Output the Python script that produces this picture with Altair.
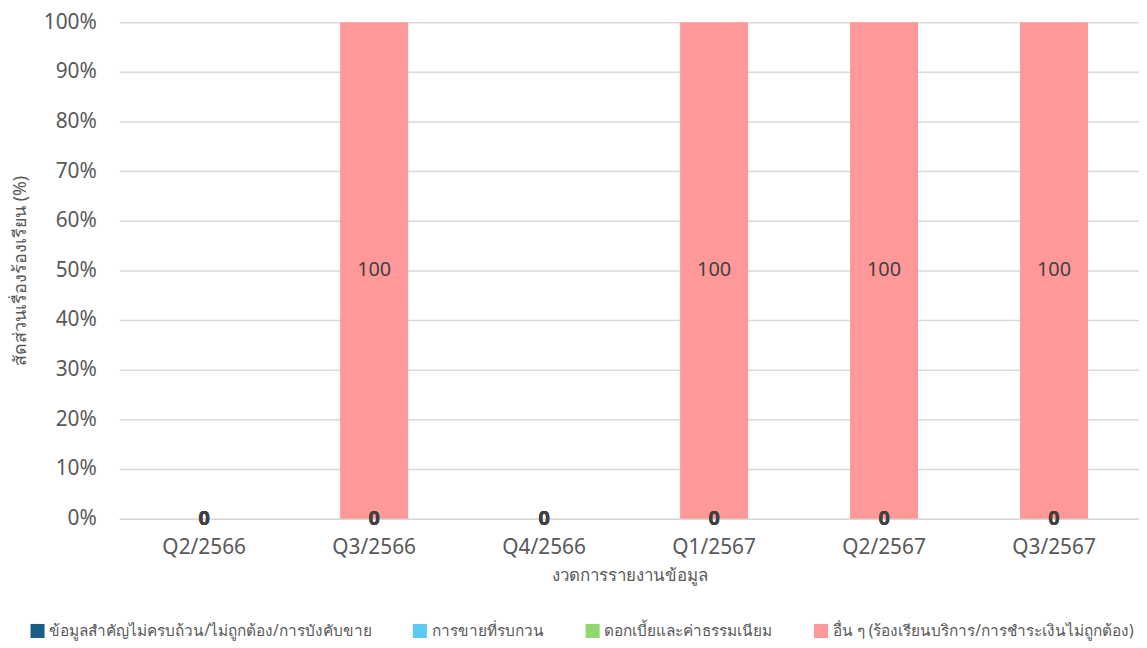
import altair as alt
import pandas as pd

quarters = ["Q2/2566", "Q3/2566", "Q4/2566", "Q1/2567", "Q2/2567", "Q3/2567"]
series = [
    "ข้อมูลสำคัญไม่ครบถ้วน/ไม่ถูกต้อง/การบังคับขาย",
    "การขายที่รบกวน",
    "ดอกเบี้ยและค่าธรรมเนียม",
    "อื่น ๆ (ร้องเรียนบริการ/การชำระเงินไม่ถูกต้อง)",
]
colors = ["#1a5e85", "#5bc9f1", "#8ed86f", "#ff9999"]
s1 = [0, 0, 0, 0, 0, 0]
s2 = [0, 0, 0, 0, 0, 0]
s3 = [0, 0, 0, 0, 0, 0]
s4 = [0, 100, 0, 100, 100, 100]

rows = []
for si, (name, vals) in enumerate(zip(series, [s1, s2, s3, s4])):
    for q, v in zip(quarters, vals):
        rows.append({"quarter": q, "series": name, "order": si, "value": v})
df = pd.DataFrame(rows)

FONT = "Noto Sans"
base = alt.Chart(df).transform_stack(
    stack="value", groupby=["quarter"], as_=["y0", "y1"], sort=[alt.SortField("order")]
).transform_calculate(mid="(datum.y0 + datum.y1) / 2")

xenc = alt.X("quarter:N", sort=quarters, scale=alt.Scale(paddingInner=0.6, paddingOuter=0.3),
             axis=alt.Axis(title="งวดการรายงานข้อมูล", labelAngle=0, ticks=False, domain=True,
                           domainColor="#d9d9d9", domainWidth=1.5, labelPadding=18,
                           labelFontSize=21, labelColor="#595959", labelFont=FONT,
                           titleFontSize=17, titleColor="#595959", titleFontWeight="normal",
                           titlePadding=10, titleFont=FONT))

bars = base.mark_bar().encode(
    x=xenc,
    y=alt.Y("y0:Q", scale=alt.Scale(domain=[0, 100]),
            axis=alt.Axis(values=list(range(0, 101, 10)), labelExpr="datum.value + '%'",
                          title="สัดส่วนเรื่องร้องเรียน (%)", ticks=False, domain=False,
                          gridColor="#d9d9d9", gridWidth=1.5, labelPadding=23,
                          labelFontSize=21, labelColor="#595959", labelFont=FONT,
                          titleFontSize=18, titleColor="#595959", titleFontWeight="normal",
                          titleX=-90, titleFont=FONT)),
    y2="y1:Q",
    color=alt.Color("series:N", sort=series, scale=alt.Scale(domain=series, range=colors),
                    legend=alt.Legend(title=None, orient="none", direction="horizontal",
                                      legendX=-90, legendY=605,
                                      symbolType="square", symbolSize=200, symbolStrokeWidth=0,
                                      labelFontSize=15.5, labelColor="#595959", labelFont=FONT,
                                      labelLimit=0, columnPadding=42, labelOffset=4)),
    order=alt.Order("order:Q"),
)

labels_zero = base.transform_filter("datum.value == 0").mark_text(
    fontSize=20, fontWeight="bold", color="#404040", font=FONT
).encode(x=alt.X("quarter:N", sort=quarters), y="mid:Q", text=alt.Text("value:Q"))

labels_pos = base.transform_filter("datum.value > 0").mark_text(
    fontSize=20, color="#404040", font=FONT
).encode(x=alt.X("quarter:N", sort=quarters), y="mid:Q", text=alt.Text("value:Q"))

chart = (bars + labels_zero + labels_pos).properties(
    width=1027, height=500,
    autosize=alt.AutoSizeParams(type="none"),
    padding={"left": 112, "top": 12, "right": 0, "bottom": 124},
).configure_view(stroke=None)

chart.save("out.html", embed_options={"renderer": "svg", "actions": False})
